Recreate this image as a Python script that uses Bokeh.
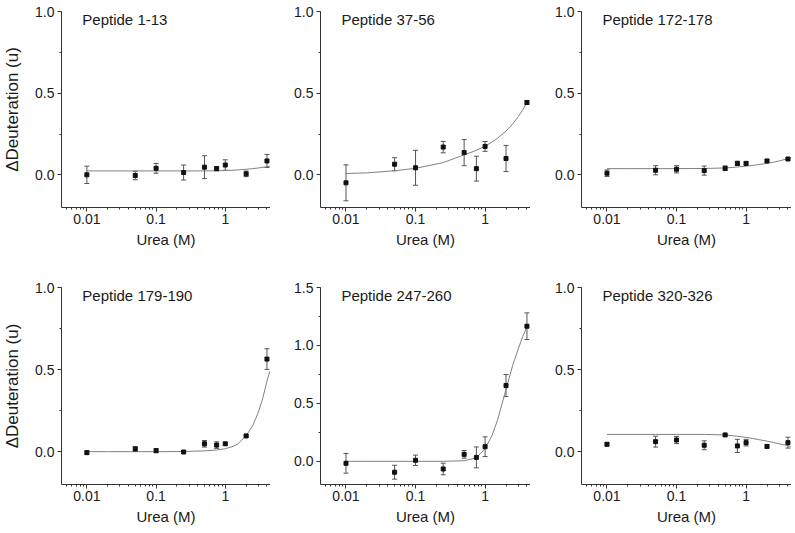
from bokeh.plotting import figure
from bokeh.layouts import gridplot
from bokeh.models import (ColumnDataSource, Whisker, TeeHead, Label, Range1d,
                          FixedTicker, SingleIntervalTicker, PrintfTickFormatter,
                          CustomJSTickFormatter)
from bokeh.embed import file_html
from bokeh.resources import INLINE

# ---------------- data ----------------
urea = [0.01, 0.05, 0.1, 0.25, 0.5, 0.75, 1, 2, 4]

titles = ["Peptide 1-13", "Peptide 37-56", "Peptide 172-178",
          "Peptide 179-190", "Peptide 247-260", "Peptide 320-326"]

d_1_13 = [0.000, -0.004, 0.040, 0.014, 0.047, 0.038, 0.060, 0.006, 0.085]
e_1_13 = [0.053, 0.026, 0.030, 0.046, 0.070, 0.013, 0.032, 0.017, 0.040]

d_37_56 = [-0.049, 0.065, 0.043, 0.170, 0.136, 0.038, 0.174, 0.100, 0.443]
e_37_56 = [0.110, 0.040, 0.107, 0.035, 0.080, 0.076, 0.030, 0.080, 0.012]

d_172_178 = [0.010, 0.028, 0.034, 0.026, 0.040, 0.070, 0.070, 0.085, 0.097]
e_172_178 = [0.020, 0.028, 0.022, 0.028, 0.014, 0.013, 0.010, 0.008, 0.006]

d_179_190 = [-0.006, 0.016, 0.006, -0.002, 0.048, 0.040, 0.048, 0.096, 0.564]
e_179_190 = [0.010, 0.015, 0.012, 0.005, 0.020, 0.020, 0.008, 0.006, 0.063]

d_247_260 = [-0.017, -0.094, 0.009, -0.066, 0.060, 0.034, 0.126, 0.654, 1.166]
e_247_260 = [0.085, 0.060, 0.045, 0.050, 0.033, 0.090, 0.085, 0.095, 0.115]

d_320_326 = [0.045, 0.061, 0.071, 0.039, 0.102, 0.035, 0.055, 0.032, 0.055]
e_320_326 = [0.010, 0.033, 0.022, 0.027, 0.005, 0.040, 0.020, 0.010, 0.033]

# fitted curves
fit_x = [0.01, 0.02, 0.05, 0.1, 0.25, 0.5, 0.75, 1, 1.25, 1.5, 2, 2.5, 3, 3.5, 4, 4.4]
f_1_13 = [0.024, 0.024, 0.024, 0.024, 0.024, 0.024, 0.025, 0.026, 0.028, 0.030,
          0.034, 0.038, 0.042, 0.046, 0.050, 0.053]
f_37_56 = [0.008, 0.012, 0.025, 0.040, 0.075, 0.122, 0.150, 0.175, 0.200, 0.223,
           0.268, 0.312, 0.356, 0.400, 0.443, float("nan")]
f_172_178 = [0.038, 0.038, 0.038, 0.038, 0.039, 0.042, 0.048, 0.053, 0.058, 0.062,
             0.070, 0.078, 0.085, 0.093, 0.100, 0.105]
f_179_190 = [0.000, 0.000, 0.000, 0.000, 0.001, 0.005, 0.010, 0.018, 0.030, 0.045,
             0.097, 0.160, 0.240, 0.330, 0.430, 0.490]
f_247_260 = [0.000, 0.000, 0.000, 0.000, 0.000, 0.005, 0.030, 0.110, 0.220, 0.350,
             0.620, 0.830, 0.970, 1.080, 1.160, float("nan")]
f_320_326 = [0.105, 0.105, 0.105, 0.105, 0.105, 0.102, 0.094, 0.087, 0.080, 0.074,
             0.064, 0.056, 0.048, 0.042, 0.036, 0.032]

values = [d_1_13, d_37_56, d_172_178, d_179_190, d_247_260, d_320_326]
errors = [e_1_13, e_37_56, e_172_178, e_179_190, e_247_260, e_320_326]
fits = [f_1_13, f_37_56, f_172_178, f_179_190, f_247_260, f_320_326]
y_tops = [1.0, 1.0, 1.0, 1.0, 1.5, 1.0]
y_bottom = -0.2
x_lo, x_hi = 0.0043, 4.5

FONT = "Liberation Sans"
TXT = "#1a1a1a"
AX = "#333333"

col_widths = [270, 260, 261]
col_left = [60, 50, 51]
row_heights = [280, 253]
row_top = [11, 7]
row_bottom = [73, 49]


def make_panel(i, r, c):
    p = figure(width=col_widths[c], height=row_heights[r], x_axis_type="log",
               x_range=Range1d(x_lo, x_hi), y_range=Range1d(y_bottom, y_tops[i]),
               output_backend="svg", toolbar_location=None,
               min_border_left=col_left[c], min_border_right=0,
               min_border_top=row_top[r], min_border_bottom=row_bottom[r])
    p.outline_line_color = None
    p.xgrid.visible = False
    p.ygrid.visible = False
    p.background_fill_color = "white"
    p.border_fill_color = "white"

    src = ColumnDataSource(dict(
        x=urea, y=values[i],
        upper=[v + e for v, e in zip(values[i], errors[i])],
        lower=[v - e for v, e in zip(values[i], errors[i])]))

    p.line(fit_x, fits[i], line_color="#808080", line_width=1)
    wh = Whisker(source=src, base="x", upper="upper", lower="lower",
                 line_color="#555555", line_width=1,
                 upper_head=TeeHead(size=5, line_color="#555555", line_width=1),
                 lower_head=TeeHead(size=5, line_color="#555555", line_width=1))
    p.add_layout(wh)
    p.scatter("x", "y", source=src, marker="square", size=4,
              fill_color="#111111", line_color="#111111", line_width=1)

    span = y_tops[i] - y_bottom
    p.add_layout(Label(x=x_lo * 2.0, y=y_tops[i] - span * 7.5 / 196.0,
                       text=titles[i], text_font=FONT, text_font_size="15px",
                       text_color=TXT, text_baseline="middle", text_align="left"))

    minor = [m * 10.0 ** k for k in (-3, -2, -1, 0) for m in range(2, 10)]
    p.xaxis.ticker = FixedTicker(ticks=[0.01, 0.1, 1], minor_ticks=minor)
    p.xaxis.formatter = CustomJSTickFormatter(code="return String(tick);")
    p.yaxis.ticker = SingleIntervalTicker(interval=0.5, num_minor_ticks=2)
    p.yaxis.formatter = PrintfTickFormatter(format="%.1f")

    p.xaxis.axis_label = "Urea (M)"
    p.yaxis.axis_label = "\u0394Deuteration (u)" if c == 0 else None

    for ax in (p.xaxis, p.yaxis):
        ax.axis_line_color = AX
        ax.major_tick_line_color = AX
        ax.minor_tick_line_color = AX
        ax.major_tick_in = 0
        ax.major_tick_out = 4
        ax.minor_tick_in = 0
        ax.minor_tick_out = 2
        ax.major_label_text_font = FONT
        ax.major_label_text_font_size = "14px"
        ax.major_label_text_color = TXT
        ax.axis_label_text_font = FONT
        ax.axis_label_text_font_size = "15px"
        ax.axis_label_text_font_style = "normal"
        ax.axis_label_text_color = TXT
    p.xaxis.major_label_standoff = 2
    p.xaxis.axis_label_standoff = 4
    p.yaxis.major_label_standoff = 3
    p.yaxis.axis_label_standoff = 10
    p.yaxis.axis_label_text_font_size = "17px"
    return p


panels = [[make_panel(r * 3 + c, r, c) for c in range(3)] for r in range(2)]

grid = gridplot(panels, toolbar_location=None)

open("out.html", "w").write(file_html(grid, INLINE))
